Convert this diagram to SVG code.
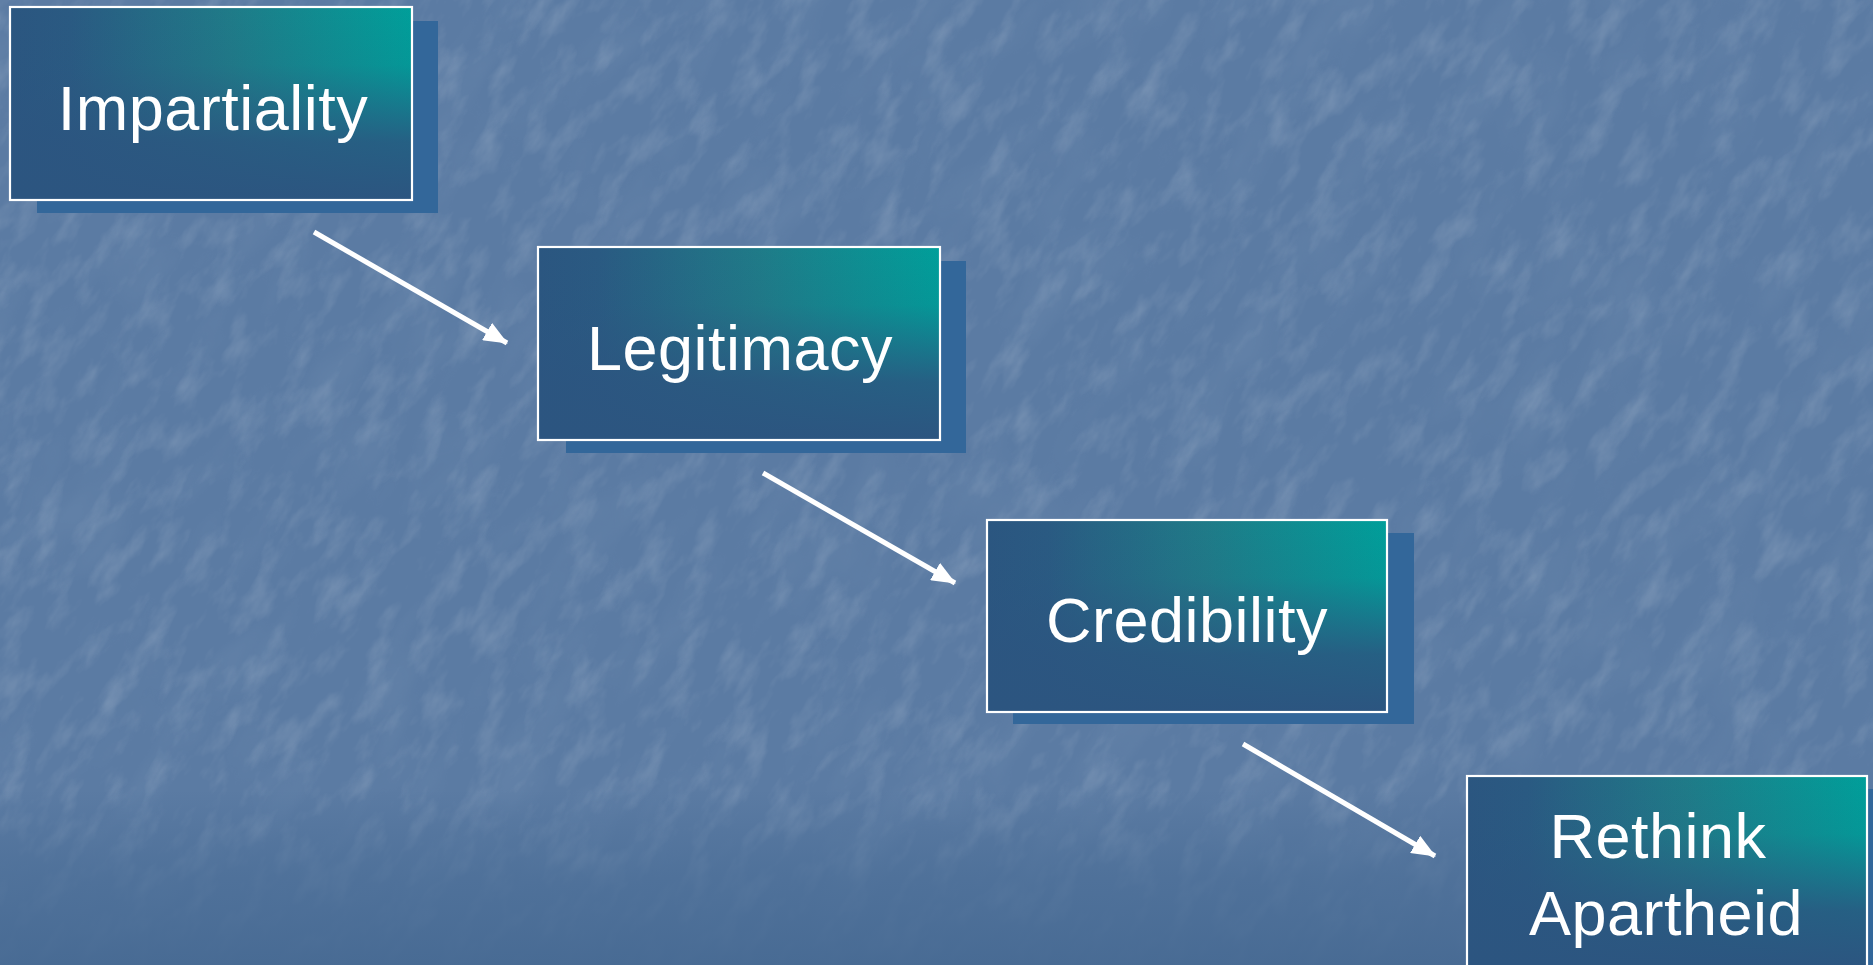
<svg xmlns="http://www.w3.org/2000/svg" width="1873" height="965" viewBox="0 0 1873 965">
  <defs>
    <style>
      .shadow { fill: #33679a; }
      .box { fill: url(#boxH); }
      .boxShade { fill: url(#boxV); }
      .frame { fill: none; stroke: #ffffff; stroke-width: 2.2; }
      .label { font-family: "Liberation Sans", Arial, sans-serif; font-size: 63px; fill: #ffffff; text-anchor: middle; letter-spacing: 0.5px; }
      .conn { stroke: #ffffff; stroke-width: 5; fill: none; marker-end: url(#arrow); }
    </style>
    <linearGradient id="boxH" x1="0" y1="0" x2="1" y2="0">
      <stop offset="0" stop-color="#2b5680"/>
      <stop offset="0.15" stop-color="#2a5a82"/>
      <stop offset="0.55" stop-color="#1f7b88"/>
      <stop offset="1" stop-color="#009f9a"/>
    </linearGradient>
    <linearGradient id="boxV" x1="0" y1="0" x2="0" y2="1">
      <stop offset="0" stop-color="#2c5580" stop-opacity="0"/>
      <stop offset="0.3" stop-color="#2c5580" stop-opacity="0.1"/>
      <stop offset="0.7" stop-color="#2c5580" stop-opacity="0.85"/>
      <stop offset="1" stop-color="#2c5580" stop-opacity="1"/>
    </linearGradient>
    <linearGradient id="bottomBand" x1="0" y1="0" x2="0" y2="1">
      <stop offset="0" stop-color="#486b94" stop-opacity="0"/>
      <stop offset="0.5" stop-color="#4a6d96" stop-opacity="0.7"/>
      <stop offset="1" stop-color="#476a93" stop-opacity="0.95"/>
    </linearGradient>
    <filter id="tex" x="0" y="0" width="1" height="1" filterUnits="objectBoundingBox">
      <feTurbulence type="fractalNoise" baseFrequency="0.02 0.045" numOctaves="4" seed="7"/>
      <feColorMatrix type="matrix" values="0 0 0 0 1  0 0 0 0 1  0 0 0 0 1  1.8 0 0 0 -0.85"/>
    </filter>
    <filter id="texDark" x="0" y="0" width="1" height="1" filterUnits="objectBoundingBox">
      <feTurbulence type="fractalNoise" baseFrequency="0.008 0.02" numOctaves="3" seed="3"/>
      <feColorMatrix type="matrix" values="0 0 0 0 0.22  0 0 0 0 0.33  0 0 0 0 0.5  -1.4 0 0 0 0.75"/>
    </filter>
    <marker id="arrow" viewBox="0 0 24 20" refX="23" refY="10" markerWidth="24" markerHeight="20" markerUnits="userSpaceOnUse" orient="auto">
      <path d="M0,0 L24,10 L0,20 Z" fill="#ffffff"/>
    </marker>
  </defs>

  <g id="background">
    <rect x="0" y="0" width="1873" height="965" fill="#5b7ba3"/>
    <g transform="rotate(-58 936 482)">
      <rect x="-170" y="-620" width="2212" height="2212" filter="url(#texDark)" opacity="0.3"/>
      <rect x="-170" y="-620" width="2212" height="2212" filter="url(#tex)" opacity="0.18"/>
    </g>
    <rect x="0" y="790" width="1873" height="175" fill="url(#bottomBand)"/>
  </g>

  <g id="connectors">
    <line class="conn" x1="314" y1="232" x2="507" y2="343"/>
    <line class="conn" x1="763" y1="473" x2="955" y2="583"/>
    <line class="conn" x1="1243" y1="744" x2="1435" y2="856"/>
  </g>

  <g id="node-impartiality">
    <rect class="shadow" x="37" y="21" width="401" height="192"/>
    <rect class="box" x="10" y="7" width="402" height="193"/>
    <rect class="boxShade" x="10" y="7" width="402" height="193"/>
    <rect class="frame" x="10" y="7" width="402" height="193"/>
    <text class="label" x="213" y="130">Impartiality</text>
  </g>

  <g id="node-legitimacy">
    <rect class="shadow" x="566" y="261" width="400" height="192"/>
    <rect class="box" x="538" y="247" width="402" height="193"/>
    <rect class="boxShade" x="538" y="247" width="402" height="193"/>
    <rect class="frame" x="538" y="247" width="402" height="193"/>
    <text class="label" x="740" y="370">Legitimacy</text>
  </g>

  <g id="node-credibility">
    <rect class="shadow" x="1013" y="533" width="401" height="191"/>
    <rect class="box" x="987" y="520" width="400" height="192"/>
    <rect class="boxShade" x="987" y="520" width="400" height="192"/>
    <rect class="frame" x="987" y="520" width="400" height="192"/>
    <text class="label" x="1187" y="642">Credibility</text>
  </g>

  <g id="node-rethink">
    <rect class="shadow" x="1494" y="789" width="400" height="193"/>
    <rect class="box" x="1467" y="776" width="400" height="193"/>
    <rect class="boxShade" x="1467" y="776" width="400" height="193"/>
    <rect class="frame" x="1467" y="776" width="400" height="193"/>
    <text class="label" x="1658" y="858">Rethink</text>
    <text class="label" x="1666" y="935">Apartheid</text>
  </g>
</svg>
